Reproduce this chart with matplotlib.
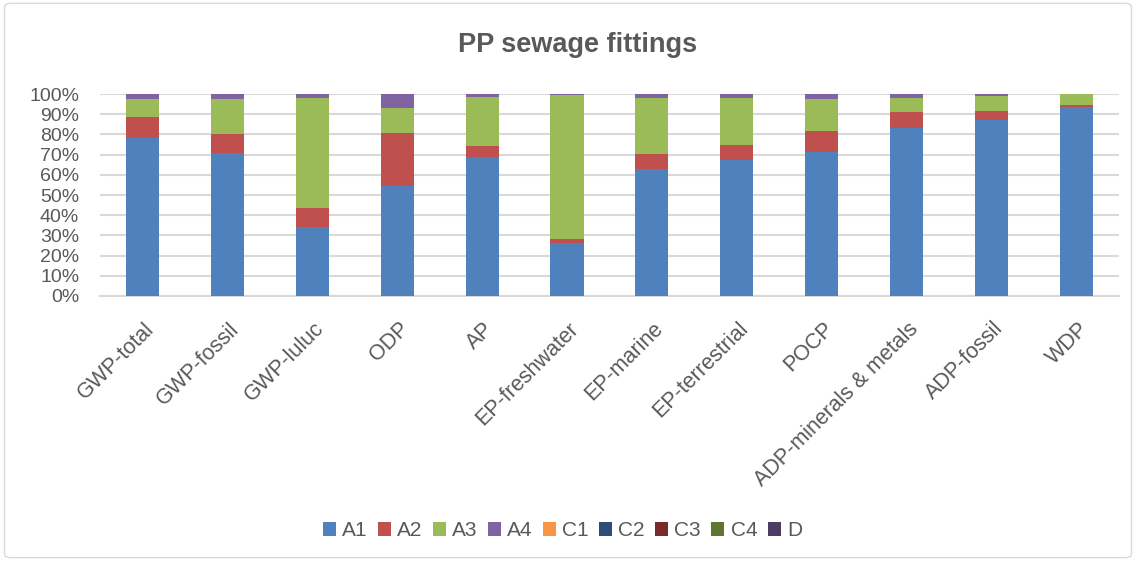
import matplotlib.pyplot as plt
import matplotlib.transforms as mtrans
import numpy as np
from matplotlib.patches import FancyBboxPatch

plt.rcParams['font.family'] = ['Liberation Sans', 'DejaVu Sans']

categories = ['GWP-total', 'GWP-fossil', 'GWP-luluc', 'ODP', 'AP', 'EP-freshwater',
              'EP-marine', 'EP-terrestrial', 'POCP', 'ADP-minerals & metals',
              'ADP-fossil', 'WDP']

# shares in %
A1 = [78.3, 70.9, 34.3, 54.3, 68.9, 26.2, 62.9, 67.2, 71.5, 83.3, 87.1, 93.7]
A2 = [10.3, 9.1, 9.1, 26.5, 5.6, 1.8, 7.3, 7.5, 10.0, 7.8, 4.5, 0.8]
A3 = [8.8, 17.7, 54.4, 12.4, 24.0, 71.5, 27.8, 23.3, 15.9, 6.9, 7.4, 5.3]
A4 = [2.6, 2.3, 2.2, 6.8, 1.5, 0.5, 2.0, 2.0, 2.6, 2.0, 1.0, 0.2]
C1 = [0] * 12
C2 = [0] * 12
C3 = [0] * 12
C4 = [0] * 12
D = [0] * 12

series = {'A1': A1, 'A2': A2, 'A3': A3, 'A4': A4, 'C1': C1,
          'C2': C2, 'C3': C3, 'C4': C4, 'D': D}
colors = ['#4F81BD', '#C0504D', '#9BBB59', '#8064A2', '#F79646',
          '#2C4D75', '#772C2A', '#5F7530', '#4D3B62']

fig = plt.figure(figsize=(11.36, 5.61), dpi=100)
ax = fig.add_axes([0.088, 0.4724, 0.897, 0.36])

# chart border like excel
fig.patches.append(FancyBboxPatch((0.004, 0.006), 0.992, 0.988,
                                  boxstyle='round,pad=0,rounding_size=0.006',
                                  transform=fig.transFigure, fill=False,
                                  edgecolor='#D9D9D9', linewidth=1))

x = np.arange(len(categories))
bottom = np.zeros(len(categories))
for (name, vals), c in zip(series.items(), colors):
    vals = np.array(vals, dtype=float)
    ax.bar(x, vals, 0.39, bottom=bottom, color=c, label=name, zorder=3)
    bottom += vals

ax.set_xlim(-0.5, len(categories) - 0.5)
ax.set_ylim(0, 100)
ax.set_yticks(np.arange(0, 101, 10))
ax.set_yticklabels([f'{v}%' for v in range(0, 101, 10)])
ax.yaxis.grid(True, color='#D9D9D9', linewidth=1.5, zorder=0)
ax.set_xticks(x)
ax.set_xticklabels(categories, rotation=45, ha='right', rotation_mode='anchor')
ax.tick_params(axis='both', length=0, labelsize=14, colors='#595959')
ax.tick_params(axis='x', labelsize=15.5, pad=16)
ax.tick_params(axis='y', pad=15)
shift = mtrans.ScaledTranslation(1 / 100, 0, fig.dpi_scale_trans)
for lab in ax.get_xticklabels():
    lab.set_transform(lab.get_transform() + shift)
for s in ['top', 'right', 'left']:
    ax.spines[s].set_visible(False)
ax.spines['bottom'].set_color('#D9D9D9')
ax.spines['bottom'].set_linewidth(1.5)

fig.text(0.508, 0.92, 'PP sewage fittings', ha='center', va='center',
         fontsize=19.5, fontweight='bold', color='#595959')

fig.legend(loc='center', bbox_to_anchor=(0.495, 0.054), ncol=9, frameon=False,
           fontsize=15, handlelength=0.62, handleheight=0.62, handletextpad=0.3,
           columnspacing=0.5, labelcolor='#595959')

fig.savefig('out.png', dpi=100)
